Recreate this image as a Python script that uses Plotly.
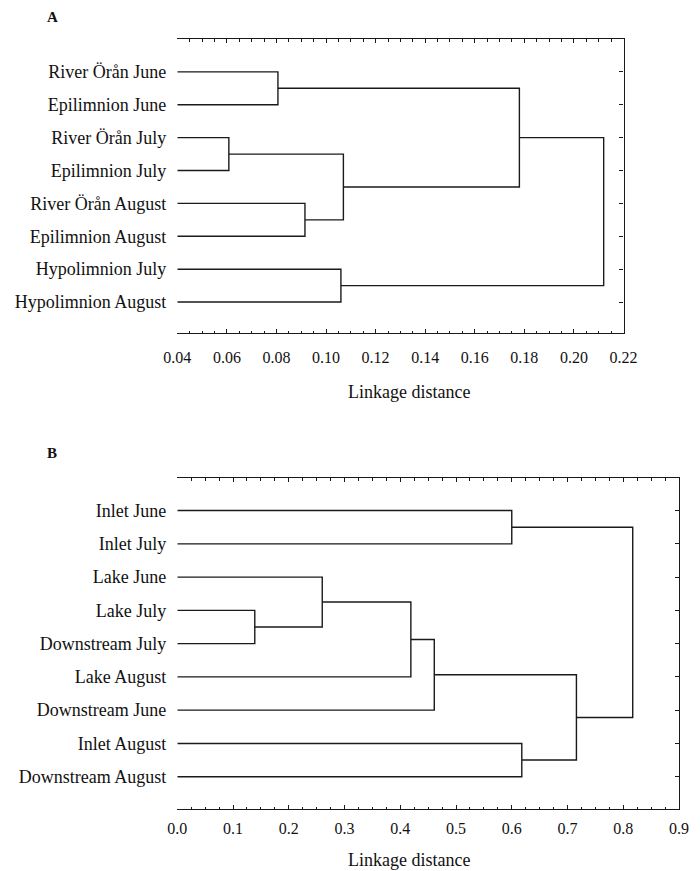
import plotly.graph_objects as go

# ---------------- Data ----------------
# Panel A
a_leaves = ["River Örån June", "Epilimnion June", "River Örån July", "Epilimnion July",
            "River Örån August", "Epilimnion August", "Hypolimnion July", "Hypolimnion August"]
# merges: (child1, child2, linkage distance); new node ids continue after leaves
a_merge_left = [0, 2, 4, 9, 6, 8, 13]
a_merge_right = [1, 3, 5, 10, 7, 11, 12]
a_merge_height = [0.0806, 0.0608, 0.0915, 0.107, 0.106, 0.178, 0.212]
a_xticks = [0.04, 0.06, 0.08, 0.10, 0.12, 0.14, 0.16, 0.18, 0.20, 0.22]

# Panel B
b_leaves = ["Inlet June", "Inlet July", "Lake June", "Lake July", "Downstream July",
            "Lake August", "Downstream June", "Inlet August", "Downstream August"]
b_merge_left = [0, 3, 2, 11, 12, 7, 13, 9]
b_merge_right = [1, 4, 10, 5, 6, 8, 14, 15]
b_merge_height = [0.600, 0.139, 0.260, 0.419, 0.461, 0.618, 0.716, 0.817]
b_xticks = [0.0, 0.1, 0.2, 0.3, 0.4, 0.5, 0.6, 0.7, 0.8, 0.9]

LINE = "#1a1a1a"
FONT = "Liberation Serif, Times New Roman, serif"

# page offset (default body margin) and figure size
OFF = 8
W, H = 692, 863


def px_x(x):
    return (x - OFF) / W


def px_y(y):
    return 1 - (y - OFF) / H


def dendro_path(leaves, left, right, heights, base):
    n = len(leaves)
    ypos = {i: float(i) for i in range(n)}
    xpos = {i: base for i in range(n)}
    xs, ys = [], []
    for k, (l, r, h) in enumerate(zip(left, right, heights)):
        node = n + k
        xs += [xpos[l], h, h, xpos[r], None]
        ys += [ypos[l], ypos[l], ypos[r], ypos[r], None]
        ypos[node] = (ypos[l] + ypos[r]) / 2
        xpos[node] = h
    return xs, ys


fig = go.Figure()

ax, ay = dendro_path(a_leaves, a_merge_left, a_merge_right, a_merge_height, a_xticks[0])
fig.add_trace(go.Scatter(x=ax, y=ay, mode="lines", line=dict(color=LINE, width=1.4),
                         xaxis="x", yaxis="y", hoverinfo="skip", showlegend=False))
fig.add_trace(go.Scatter(x=[a_xticks[0]], y=[0], mode="lines", line=dict(width=0),
                         xaxis="x", yaxis="y2", hoverinfo="skip", showlegend=False))

bx, by = dendro_path(b_leaves, b_merge_left, b_merge_right, b_merge_height, b_xticks[0])
fig.add_trace(go.Scatter(x=bx, y=by, mode="lines", line=dict(color=LINE, width=1.4),
                         xaxis="x2", yaxis="y3", hoverinfo="skip", showlegend=False))
fig.add_trace(go.Scatter(x=[b_xticks[0]], y=[0], mode="lines", line=dict(width=0),
                         xaxis="x2", yaxis="y4", hoverinfo="skip", showlegend=False))

tickfont = dict(family=FONT, size=16, color="#111")
leaffont = dict(family=FONT, size=18, color="#111")


def xaxis_cfg(ticks, minor, domain, anchor, standoff):
    return dict(domain=domain, anchor=anchor, range=[ticks[0], ticks[-1]],
                tickvals=ticks, ticktext=[(f"{t:.2f}" if ticks[-1] < 0.5 else f"{t:.1f}") for t in ticks],
                ticks="inside", ticklen=4, tickwidth=1, tickcolor=LINE,
                minor=dict(dtick=minor, tick0=ticks[0], ticks="inside", ticklen=2.5,
                           tickcolor=LINE, tickwidth=1, showgrid=False),
                showline=True, linecolor=LINE, linewidth=1.3, mirror="ticks",
                showgrid=False, zeroline=False, tickfont=tickfont, automargin=False,
                ticklabelstandoff=standoff, fixedrange=True)


def yleft_cfg(labels, domain, anchor, rng):
    return dict(domain=domain, anchor=anchor, range=rng,
                tickvals=list(range(len(labels))), ticktext=labels,
                ticks="", showline=False, showgrid=False, zeroline=False,
                tickfont=leaffont, ticklabelstandoff=10, automargin=False, fixedrange=True)


def yright_cfg(labels, over, anchor):
    return dict(overlaying=over, matches=over, side="right", anchor=anchor,
                tickvals=list(range(len(labels))), showticklabels=False,
                ticks="inside", ticklen=4, tickwidth=1, tickcolor=LINE,
                showline=True, linecolor=LINE, linewidth=1.3, automargin=False,
                showgrid=False, zeroline=False, fixedrange=True)


fig.update_layout(
    width=W, height=H,
    margin=dict(l=0, r=0, t=0, b=0, pad=0, autoexpand=False),
    paper_bgcolor="white", plot_bgcolor="white",
    showlegend=False,
    xaxis=xaxis_cfg(a_xticks, 0.005, [px_x(177.3), px_x(623.5)], "y", 9),
    yaxis=yleft_cfg(a_leaves, [px_y(333.3), px_y(39)], "x", [7.95, -1.0]),
    yaxis2=yright_cfg(a_leaves, "y", "x"),
    xaxis2=xaxis_cfg(b_xticks, 0.025, [px_x(177.3), px_x(679)], "y3", 4),
    yaxis3=yleft_cfg(b_leaves, [px_y(809.3), px_y(478.3)], "x2", [8.98, -0.97]),
    yaxis4=yright_cfg(b_leaves, "y3", "x2"),
)

for ty in (392, 860):
    fig.add_annotation(text="Linkage distance", x=px_x(409), y=px_y(ty), xref="paper", yref="paper",
                       showarrow=False, xanchor="center", yanchor="middle",
                       font=dict(family=FONT, size=18, color="#111"))
for letter, ty in (("A", 17), ("B", 453)):
    fig.add_annotation(text=f"<b>{letter}</b>", x=px_x(46), y=px_y(ty), xref="paper", yref="paper",
                       showarrow=False, xanchor="left", yanchor="middle", borderpad=0,
                       font=dict(family=FONT, size=15, color="#111"))

fig.write_html("out.html")
